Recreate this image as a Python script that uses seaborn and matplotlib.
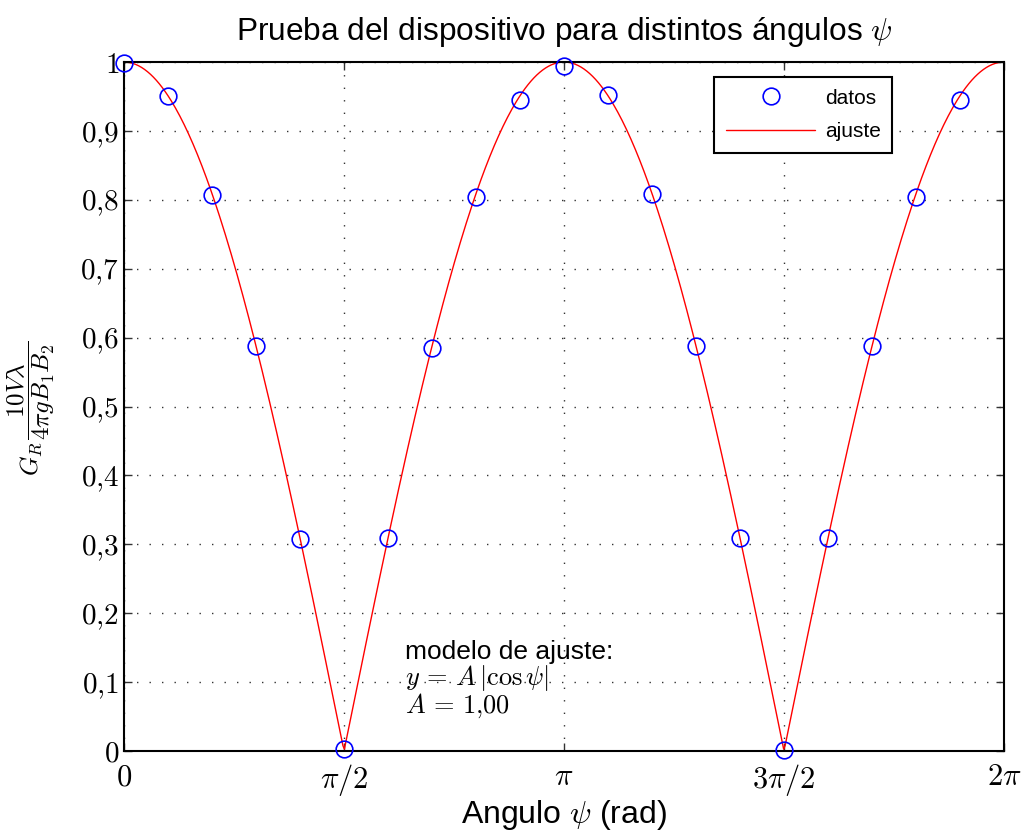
import numpy as np
import pandas as pd
import matplotlib
matplotlib.use("Agg")
import matplotlib.pyplot as plt
import seaborn as sns

# Measured points: angle index k (psi = k*pi/10) and normalised signal
k_idx = list(range(20))
g_vals = [0.998, 0.951, 0.807, 0.588, 0.308, 0.003, 0.309, 0.585, 0.804, 0.945,
          0.994, 0.952, 0.808, 0.588, 0.309, 0.001, 0.309, 0.588, 0.804, 0.945]
amp_A = 1.00

y_ticks = [0, 0.1, 0.2, 0.3, 0.4, 0.5, 0.6, 0.7, 0.8, 0.9, 1.0]
y_tick_labels = ["$0$", "$0{,}1$", "$0{,}2$", "$0{,}3$", "$0{,}4$", "$0{,}5$",
                 "$0{,}6$", "$0{,}7$", "$0{,}8$", "$0{,}9$", "$1$"]
x_ticks = [0, np.pi / 2, np.pi, 3 * np.pi / 2, 2 * np.pi]
x_tick_labels = ["$0$", r"$\pi/2$", r"$\pi$", r"$3\pi/2$", r"$2\pi$"]

sns.set_style("white")
plt.rcParams["font.family"] = ["Liberation Sans", "DejaVu Sans"]
plt.rcParams["mathtext.fontset"] = "cm"
for key in ("text.color", "axes.labelcolor", "xtick.color", "ytick.color"):
    plt.rcParams[key] = "black"

psi = np.array(k_idx) * np.pi / 10
data = pd.DataFrame({"psi": psi, "G": g_vals})
psi_fit = np.linspace(0, 2 * np.pi, 600)
fit = pd.DataFrame({"psi": psi_fit, "G": amp_A * np.abs(np.cos(psi_fit))})

fig = plt.figure(figsize=(10.24, 8.36), dpi=100)
ax = fig.add_axes([0.1211, 0.1017, 0.8594, 0.8241])

ax.plot(data["psi"], data["G"], linestyle="none", marker="o", markersize=12,
        markerfacecolor="none", markeredgecolor="#0000ff", markeredgewidth=1.2,
        label="datos", zorder=3, clip_on=False)
sns.lineplot(data=fit, x="psi", y="G", color="#ff0000", linewidth=1.0,
             label="ajuste", ax=ax, zorder=2)

ax.set_xlim(0, 2 * np.pi)
ax.set_ylim(0, 1)
ax.set_xticks(x_ticks)
ax.set_xticklabels(x_tick_labels, fontsize=22)
ax.set_yticks(y_ticks)
ax.set_yticklabels(y_tick_labels, fontsize=21)
ax.tick_params(direction="in", length=6, width=1, top=True, right=True,
               bottom=True, left=True, color="#333333")
ax.tick_params(axis="x", pad=8)
ax.grid(True, linestyle=(0, (1, 8)), color="#333333", linewidth=1)
for s in ax.spines.values():
    s.set_visible(True)
    s.set_color("black")
    s.set_linewidth(1.5)

ax.set_title(r"Prueba del dispositivo para distintos ángulos $\psi$", fontsize=22.8, pad=16)
ax.set_xlabel(r"Angulo $\psi$ (rad)", fontsize=23, labelpad=0)

# y-axis label: G_R followed by a lowered fraction of the same size as G
ax.set_ylabel("")
fig.text(31 / 1024, 1 - 459 / 836, r"$G_R$", fontsize=18, rotation=90,
         ha="center", va="center")
fig.text(31 / 1024, 1 - 390 / 836, r"$\dfrac{10V\lambda}{4\pi g B_1 B_2}$",
         fontsize=18, rotation=90, ha="center", va="center")

ax.text(2.005, 0.045, "modelo de ajuste:\n" + r"$y\,=\,A\,|\cos\psi|$" + "\n" + r"$A\,=\,1{,}00$",
        fontsize=19, ha="left", va="bottom", linespacing=0.95)

leg = ax.legend(loc="upper right", bbox_to_anchor=(0.8727, 0.978), borderaxespad=0,
                numpoints=1, fontsize=15, frameon=True, fancybox=False,
                borderpad=0.55, handlelength=4.3, handletextpad=0.45, labelspacing=0.7)
leg.get_frame().set_edgecolor("black")
leg.get_frame().set_linewidth(1.5)
leg.get_frame().set_alpha(1)

fig.savefig("out.png", dpi=100)
